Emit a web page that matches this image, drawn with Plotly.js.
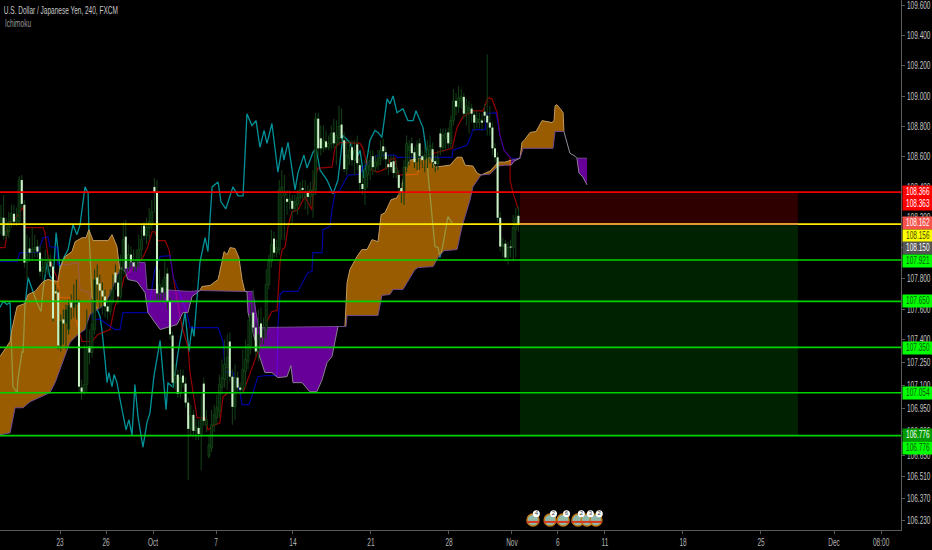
<!DOCTYPE html>
<html><head><meta charset="utf-8">
<script src="https://cdn.plot.ly/plotly-3.0.1.min.js"></script>
<style>html,body{margin:0;padding:0;background:#000;overflow:hidden}#c{width:932px;height:550px}</style>
</head><body><div id="c"></div>
<script>
const priceTicks=[109.6,109.4,109.2,109.0,108.8,108.6,108.4,108.2,108.0,107.8,107.6,107.4,107.25,107.1,106.95,106.8,106.65,106.51,106.37,106.23];
const dateTickPos=[22.7,40.4,58.5,82.7,112.3,142.3,172.3,196.5,214.2,232.3,262.3,292.3,320.4,338.5];
const dateTickText=['23','26','Oct','7','14','21','28','Nov','6','11','18','25','Dec','08:00'];

const openP=[108.152,108.198,108.080,108.106,108.172,108.224,108.172,108.172,108.446,108.283,107.904,107.996,107.969,107.989,108.009,107.969,107.845,107.871,107.904,107.911,
107.878,107.715,107.708,107.362,107.532,107.506,107.466,107.643,107.610,107.630,107.643,107.088,107.061,107.107,107.355,107.316,107.466,107.806,107.767,107.721,
107.682,107.617,107.584,107.662,107.839,107.773,107.682,107.858,108.074,107.871,107.956,107.904,107.878,107.911,107.989,108.146,108.080,108.133,108.152,108.401,
108.361,107.702,107.741,107.708,107.832,107.649,107.427,107.120,107.172,107.048,107.166,107.114,106.990,106.820,106.911,106.807,106.826,106.787,107.114,106.846,
106.643,106.696,106.846,106.892,106.931,107.088,107.140,107.218,107.388,107.159,106.963,107.153,107.088,107.074,107.192,107.257,107.349,107.577,107.479,107.323,
107.506,107.414,107.466,107.760,107.911,108.061,107.969,107.989,108.368,108.342,108.322,108.303,108.309,108.257,108.283,108.329,108.394,108.335,108.368,108.335,
108.348,108.381,108.851,108.721,108.655,108.701,108.662,108.688,108.760,108.688,108.721,108.812,108.708,108.518,108.590,108.662,108.577,108.681,108.544,108.420,
108.387,108.479,108.512,108.603,108.531,108.544,108.590,108.668,108.629,108.551,108.564,108.570,108.492,108.479,108.394,108.361,108.531,108.642,108.688,108.629,
108.564,108.688,108.603,108.577,108.590,108.610,108.649,108.570,108.551,108.753,108.662,108.721,108.760,108.688,108.838,108.969,108.930,108.969,108.995,108.884,
108.903,108.917,108.877,108.825,108.825,108.838,108.897,108.871,108.825,108.792,108.655,108.596,108.198,108.009,108.028,107.937,108.009,108.002,108.120,108.211];
const highP=[108.283,108.348,108.198,108.237,108.283,108.283,108.263,108.472,108.479,108.316,108.087,108.067,108.133,108.087,108.054,108.022,107.937,107.989,107.956,107.956,
107.911,107.760,107.728,107.564,107.597,107.630,107.662,107.695,107.760,107.793,107.662,107.140,107.368,107.597,107.466,107.662,107.858,107.891,107.826,107.773,
107.728,107.662,107.728,107.826,107.891,107.826,107.956,108.172,108.185,108.022,108.009,107.989,107.989,108.087,108.152,108.172,108.198,108.263,108.316,108.459,
108.446,107.858,107.793,107.911,107.871,107.675,107.453,107.238,107.205,107.205,107.205,107.153,107.022,106.977,106.944,106.879,106.879,107.042,107.153,106.944,
106.781,106.944,106.977,107.042,107.172,107.270,107.401,107.434,107.447,107.205,107.238,107.192,107.120,107.336,107.401,107.532,107.630,107.728,107.519,107.597,
107.610,107.545,107.858,107.956,108.120,108.106,108.054,108.446,108.512,108.479,108.381,108.381,108.348,108.348,108.381,108.433,108.446,108.446,108.414,108.433,
108.512,108.890,108.890,108.806,108.806,108.773,108.740,108.806,108.851,108.838,108.936,108.917,108.760,108.708,108.708,108.708,108.708,108.740,108.590,108.479,
108.577,108.590,108.642,108.642,108.610,108.642,108.708,108.721,108.662,108.610,108.610,108.610,108.577,108.512,108.427,108.577,108.740,108.708,108.727,108.662,
108.708,108.721,108.642,108.675,108.708,108.740,108.694,108.610,108.642,108.786,108.786,108.786,108.792,108.871,109.047,109.021,109.067,109.047,109.021,108.982,
108.969,108.949,108.903,108.903,108.890,108.884,108.949,109.276,108.936,108.825,108.688,108.629,108.237,108.067,108.054,108.041,108.054,108.218,108.263,108.270];
const lowP=[108.087,108.054,108.054,108.067,108.133,108.146,108.146,108.159,108.263,107.871,107.793,107.911,107.924,107.937,107.937,107.813,107.793,107.826,107.826,107.845,
107.519,107.662,107.336,107.323,107.368,107.336,107.434,107.532,107.545,107.532,107.061,107.009,107.042,107.061,107.238,107.284,107.434,107.662,107.597,107.564,
107.545,107.532,107.558,107.630,107.728,107.630,107.662,107.826,107.826,107.845,107.871,107.845,107.845,107.871,107.937,108.054,108.022,108.054,108.120,108.231,
107.662,107.662,107.649,107.675,107.597,107.401,107.088,107.074,107.022,107.022,107.088,106.957,106.487,106.774,106.774,106.748,106.748,106.552,106.839,106.800,
106.630,106.670,106.800,106.846,106.892,107.042,107.088,107.074,107.127,106.846,106.879,107.061,107.042,107.055,107.088,107.205,107.303,107.434,107.284,107.257,
107.368,107.368,107.401,107.728,107.871,107.937,107.937,107.956,108.054,108.054,108.218,108.250,108.152,108.237,108.218,108.283,108.316,108.250,108.218,108.283,
108.198,108.348,108.610,108.610,108.629,108.642,108.642,108.642,108.655,108.544,108.675,108.694,108.498,108.479,108.544,108.538,108.479,108.512,108.381,108.348,
108.283,108.394,108.446,108.479,108.498,108.512,108.544,108.577,108.512,108.479,108.498,108.459,108.459,108.348,108.296,108.283,108.498,108.544,108.590,108.525,
108.512,108.512,108.525,108.498,108.525,108.557,108.525,108.498,108.512,108.610,108.629,108.642,108.655,108.655,108.805,108.871,108.890,108.917,108.851,108.805,
108.753,108.825,108.773,108.786,108.786,108.773,108.825,108.740,108.740,108.610,108.564,108.172,107.976,107.937,107.911,107.891,107.937,107.911,107.937,108.106];
const closeP=[108.198,108.080,108.106,108.172,108.224,108.172,108.185,108.446,108.289,107.904,107.956,107.969,107.989,108.002,107.976,107.845,107.871,107.904,107.911,107.878,
107.538,107.702,107.362,107.519,107.506,107.597,107.623,107.610,107.643,107.643,107.094,107.061,107.107,107.336,107.316,107.499,107.793,107.760,107.721,107.682,
107.617,107.584,107.662,107.728,107.773,107.682,107.858,108.054,107.865,107.956,107.911,107.878,107.924,107.989,108.054,108.080,108.133,108.172,108.237,108.368,
107.702,107.760,107.708,107.806,107.649,107.434,107.120,107.166,107.048,107.153,107.120,106.990,106.820,106.905,106.807,106.833,106.787,106.879,106.872,106.879,
106.715,106.846,106.911,106.957,107.107,107.153,107.238,107.284,107.159,106.963,107.153,107.088,107.074,107.205,107.270,107.368,107.564,107.479,107.323,107.434,
107.414,107.466,107.760,107.911,108.022,107.969,108.002,108.381,108.400,108.368,108.303,108.322,108.257,108.303,108.329,108.381,108.381,108.368,108.335,108.381,
108.381,108.851,108.655,108.655,108.708,108.662,108.688,108.753,108.688,108.740,108.799,108.721,108.518,108.610,108.642,108.577,108.642,108.557,108.427,108.387,
108.512,108.544,108.577,108.531,108.564,108.590,108.642,108.636,108.583,108.531,108.531,108.492,108.525,108.394,108.361,108.531,108.688,108.668,108.623,108.564,
108.675,108.603,108.577,108.610,108.642,108.675,108.564,108.551,108.590,108.662,108.740,108.753,108.688,108.838,108.969,108.930,108.988,108.995,108.884,108.936,
108.923,108.884,108.825,108.851,108.845,108.825,108.871,108.825,108.792,108.655,108.596,108.198,108.009,108.022,107.937,108.002,108.002,108.133,108.198,108.150];

const chikouX=[-0.4,0.8,2.3,3.5,3.8,4.6,6.2,6.5,8.1,8.5,9.2,10.4,12.3,13.8,15.4,16.2,17.7,18.8,20,21.2,22.7,23.8,25.8,27.7,29.2,30.4,32.3,33.5,33.8,35,38.1,38.8,40,40.8,41.5,42.7,43.5,44.6,45.8,46.9,48.1,49.2,50.4,51.5,52.7,54.6,56.2,57.3,58.8,61.2,63.5,64.2,66.2,68.1,70.8,72.3,73.5,74.2,76.5,78.5,79.6,81.2,83.5,84.6,86.5,89.2,91.2,93.1,93.8,94.6,96.5,98.1,99.6,101.2,102.3,104.2,106.5,108.1,108.8,110.4,113.1,114.2,116.5,117.7,120,121.2,122.7,125.4,127.7,129.6,131.5,134.2,136.5,138.1,139.6,141.9,143.8,145,146.5,148.5,149.6,150.8,152.3,154.6,156.5,158.5,159.6,162.3,163.8,164.2,165.8,166.9,168.1,168.8,170,171.9,173.5];
const chikouY=[107.610,107.649,107.630,107.643,107.466,107.094,107.055,107.140,107.323,107.316,107.617,107.806,107.715,107.643,107.584,107.728,107.904,107.813,107.793,108.100,107.858,107.924,107.989,108.152,108.087,108.152,108.401,108.361,108.120,107.682,107.551,107.466,107.270,107.120,107.186,107.094,107.173,107.120,107.009,106.924,106.813,106.879,106.781,107.107,106.898,106.702,106.865,106.924,107.159,107.395,106.944,107.120,107.088,107.316,107.577,107.323,107.486,107.421,107.904,108.067,107.976,108.401,108.433,108.303,108.257,108.401,108.342,108.342,108.642,108.884,108.805,108.838,108.662,108.773,108.688,108.819,108.498,108.662,108.577,108.694,108.381,108.492,108.610,108.525,108.629,108.655,108.512,108.446,108.355,108.446,108.740,108.694,108.577,108.642,108.459,108.708,108.773,108.760,108.727,108.982,108.949,109.001,108.890,108.917,108.838,108.838,108.903,108.792,108.610,108.492,108.205,108.009,108.002,107.937,108.022,108.205,108.165];
const tenkanX=[-0.4,1.5,2.3,3.5,6.2,8.5,9.2,16.2,16.9,18.1,21.5,22.7,26.5,31.2,35,36.2,37.3,41.9,43.8,46.5,47.3,54.6,56.5,58.1,59.2,60.4,63.1,64.6,65.8,66.9,69.6,71.9,72.7,74.6,75.4,78.5,79.6,81.5,84.2,85.4,87.3,93.1,94.6,96.9,98.8,100.8,102.3,104.2,106.2,107.3,108.1,109.2,110.4,111.9,114.2,115.8,116.9,119.6,120,120.8,121.9,127.3,128.5,130.4,138.1,139.2,140.8,142.7,145,148.5,149.6,151.5,152.7,154.6,160,163.8,173.5,175.4,177.7,181.5,185.4,187.3,188.8,190.8,191.9,193.5,195.8,195.8,196.9,199.2];
const tenkanY=[108.002,108.002,108.100,108.172,108.205,108.270,108.133,108.133,108.100,107.943,107.806,107.675,107.675,107.388,107.388,107.414,107.434,107.466,107.617,107.741,107.806,107.937,108.009,108.106,108.106,108.048,108.048,107.989,107.858,107.741,107.486,107.355,107.186,106.990,106.892,106.892,106.813,106.839,106.859,107.029,107.055,107.055,107.127,107.225,107.316,107.414,107.519,107.584,107.590,107.904,107.989,108.002,108.139,108.237,108.250,108.303,108.335,108.250,108.381,108.466,108.525,108.531,108.662,108.694,108.688,108.655,108.544,108.512,108.498,108.525,108.583,108.590,108.485,108.479,108.485,108.610,108.655,108.792,108.864,108.903,108.903,108.988,108.982,108.890,108.740,108.642,108.596,108.446,108.361,108.244];
const kijunX=[-0.4,6.2,7.3,14.2,16.2,18.1,18.8,21.5,21.9,25.4,29.6,30.4,34.2,35.4,38.1,40.8,43.8,45.8,46.9,56.5,58.1,59.2,61.2,65,66.2,68.1,71.5,72.7,83.5,85.4,86.2,89.2,91.9,92.7,95.4,96.9,98.8,101.5,106.2,106.5,107.3,108.5,114.2,116.2,118.1,119.6,120,123.5,123.8,126.5,127.3,128.5,130.4,133.5,138.1,139.2,145,151.5,152.3,173.5,173.8,179.2,180.4,181.5,186.2,186.9,190.4,191.9,193.5,195.8,197.7,199.6];
const kijunY=[107.911,107.911,107.969,107.969,108.067,108.074,108.009,108.002,107.891,107.891,107.904,107.728,107.708,107.532,107.532,107.499,107.466,107.466,107.577,107.577,107.728,107.858,107.943,107.950,107.813,107.728,107.577,107.479,107.479,107.388,107.192,107.186,107.061,106.977,106.977,107.055,107.159,107.166,107.166,107.486,107.695,107.715,107.715,107.780,107.839,107.845,107.969,107.969,108.120,108.139,108.250,108.361,108.381,108.479,108.485,108.531,108.610,108.610,108.596,108.596,108.642,108.675,108.721,108.779,108.779,108.884,108.890,108.740,108.642,108.596,108.583,108.590];

const bullCloud1TopX=[-0.4,3.5,4.2,6.2,9.2,10.4,13.1,16.2,18.1,21.9,22.7,24.6,27.3,28.5,31.2,32.7,33.8,35.4,41.2,42.7,44.6,45.8,46.5];
const bullCloud1TopY=[107.290,107.388,107.466,107.617,107.636,107.695,107.715,107.780,107.793,107.780,107.871,107.943,107.976,108.041,108.067,108.067,108.120,108.048,108.048,108.087,108.009,107.839,107.871];
const bullCloud1BotX=[-0.4,3.5,5.4,8.5,11.2,18.8,20.8,26.5,29.6,32.3,34.2,37,40,42.7,44.6,46.5];
const bullCloud1BotY=[106.781,106.794,106.957,106.957,106.996,107.055,107.120,107.382,107.434,107.466,107.564,107.597,107.630,107.728,107.819,107.871];
const bearCloud1TopX=[46.5,47.7,55.4,56.2,61.2,72.7,76.5];
const bearCloud1TopY=[107.871,107.904,107.904,107.728,107.728,107.715,107.721];
const bearCloud1BotX=[46.5,47.7,48.8,52.3,55.4,56.5,61.2,63.8,67.7,70,71.9,73.5,76.5];
const bearCloud1BotY=[107.871,107.845,107.793,107.780,107.708,107.577,107.466,107.479,107.499,107.577,107.577,107.682,107.721];
const bullCloud2TopX=[76.5,77.3,80.4,83.5,85,85.8,87,88.1,90,91.5,92.7,93.8];
const bullCloud2TopY=[107.721,107.747,107.754,107.793,107.911,107.976,107.956,108.002,107.996,107.937,107.793,107.715];
const bullCloud2BotX=[76.5,93.8];
const bullCloud2BotY=[107.721,107.715];
const bearCloud2TopX=[93.8,96.9,98.1,99.2,129.6];
const bearCloud2TopY=[107.715,107.715,107.577,107.479,107.486];
const bearCloud2BotX=[93.8,94.6,95,98.8,101.5,104.2,106.5,110,111.5,112.3,115.8,118.8,121.5,123.5,125.4,127.3,129.6];
const bearCloud2BotY=[107.715,107.715,107.577,107.323,107.186,107.186,107.153,107.159,107.231,107.120,107.120,107.061,107.061,107.140,107.251,107.290,107.486];
const bullCloud3TopX=[129.6,132.3,133.1,134.2,136.9,138.8,140.8,142.7,145,146.2,147.7,150,152.3,154.2,155.4,157.3,161.2,165,166.9,172.7,175.4,177.3,178.5,181.5,183.1,184.6];
const bullCloud3TopY=[107.486,107.486,107.773,107.858,107.943,107.989,107.989,108.054,108.041,108.218,108.231,108.316,108.329,108.401,108.525,108.577,108.590,108.596,108.531,108.544,108.596,108.596,108.544,108.538,108.492,108.479];
const bullCloud3BotX=[129.6,132.7,133.1,145,146.5,149.6,150.8,154.6,156.2,159.2,160.4,166.2,168.1,170.4,175.4,177.3,180.4,181.5,184.6];
const bullCloud3BotY=[107.486,107.486,107.558,107.558,107.689,107.695,107.728,107.728,107.773,107.858,107.871,107.878,107.937,107.982,107.989,108.139,108.316,108.401,108.479];
const bullCloud4TopX=[184.6,188.1,191.2,193.8,196.2];
const bullCloud4TopY=[108.479,108.505,108.564,108.564,108.577];
const bullCloud4BotX=[184.6,188.1,191.2,193.8,196.2];
const bullCloud4BotY=[108.479,108.485,108.538,108.544,108.544];
const bearCloud3TopX=[196.2,199.6];
const bearCloud3TopY=[108.577,108.590];
const bearCloud3BotX=[196.2,197.3,199.6];
const bearCloud3BotY=[108.544,108.570,108.590];
const bullCloud5TopX=[199.6,200.4,201.5,203.5,205.8,208.1,211.9,212.7,213.1,213.8,215.4,216.2,216.5];
const bullCloud5TopY=[108.590,108.694,108.714,108.760,108.766,108.838,108.825,108.838,108.936,108.943,108.910,108.890,108.766];
const bullCloud5BotX=[199.6,200.8,212.3,213.1,216.5];
const bullCloud5BotY=[108.590,108.655,108.655,108.766,108.766];
const thinSpanX=[216.5,217.7,218.8,220.8,221.5];
const thinSpanY=[108.766,108.688,108.623,108.603,108.590];
const bearCloud4TopX=[221.5,225.4];
const bearCloud4TopY=[108.590,108.590];
const bearCloud4BotX=[221.5,222.3,223.8,225.4];
const bearCloud4BotY=[108.590,108.492,108.466,108.414];

const levelValues=[108.366,108.156,107.921,107.650,107.350,107.054,106.776];
const levelColors=['#f00000','#ffe800','#00d400','#00d400','#00d400','#00d400','#00d400'];
const positionStart=199.6, positionEnd=306.5;
const stopPrice=108.366, entryPrice=108.156, targetPrice=106.776;

const tagTexts=['108.366','108.363','108.162','108.156','108.150','107.921','107.650','107.350','107.054','106.776','106.776'];
const tagPlaces=[108.368,108.288,108.165,108.080,108.000,107.914,107.652,107.347,107.054,106.780,106.698];
const tagBacks=['#ff0000','#ff0000','#f4524a','#ffff00','#555555','#00ff00','#00ff00','#00ff00','#00ff00','#009a00','#00ff00'];
const tagInks=['#ffffff','#ffffff','#ffffff','#444400','#ffffff','#115511','#115511','#115511','#115511','#ffffff','#115511'];

const eventX=[204.6,211.2,216.2,221.9,225.4,228.8];
const eventLabels=['4','2','6','2','3','2'];
const eventPrice=106.23, eventTagPrice=106.27;

const sans='"Liberation Sans",Arial,sans-serif';
const priceRange=[Math.log10(106.166),Math.log10(109.638)];
const barRange=[-0.385,346.15];
const traces=[];
function rect(x0,x1,y0,y1,c){traces.push({type:'scatter',mode:'lines',x:[x0,x1,x1,x0,x0],y:[y0,y0,y1,y1,y0],fill:'toself',fillcolor:c,line:{width:0},hoverinfo:'skip'});}
rect(positionStart,positionEnd,stopPrice,entryPrice,'#2e0000');
rect(positionStart,positionEnd,entryPrice,targetPrice,'#002200');

traces.push({type:'scatter',mode:'lines',x:chikouX,y:chikouY,line:{color:'#009298',width:1.3},hoverinfo:'skip'});
traces.push({type:'scatter',mode:'lines',x:tenkanX,y:tenkanY,line:{color:'rgba(255,0,0,0.58)',width:1.2},hoverinfo:'skip'});
traces.push({type:'scatter',mode:'lines',x:kijunX,y:kijunY,line:{color:'rgba(0,0,255,0.62)',width:1.2},hoverinfo:'skip'});

const BULL='rgba(255,153,0,0.6)', BEAR='rgba(170,0,255,0.6)';
function cloud(tx,ty,bx,by,fc,topLine,botLine){
  traces.push({type:'scatter',mode:'lines',x:tx.concat(bx.slice().reverse()),y:ty.concat(by.slice().reverse()),fill:'toself',fillcolor:fc,line:{width:0},hoverinfo:'skip'});
  traces.push({type:'scatter',mode:'lines',x:tx,y:ty,line:{color:topLine,width:1},hoverinfo:'skip'});
  traces.push({type:'scatter',mode:'lines',x:bx,y:by,line:{color:botLine,width:1},hoverinfo:'skip'});
}
const A='#c09a60', B='#6f4a90', A2='#8a8090';
cloud(bullCloud1TopX,bullCloud1TopY,bullCloud1BotX,bullCloud1BotY,BULL,A,B);
cloud(bearCloud1TopX,bearCloud1TopY,bearCloud1BotX,bearCloud1BotY,BEAR,B,A2);
cloud(bullCloud2TopX,bullCloud2TopY,bullCloud2BotX,bullCloud2BotY,BULL,A,B);
cloud(bearCloud2TopX,bearCloud2TopY,bearCloud2BotX,bearCloud2BotY,BEAR,B,A2);
cloud(bullCloud3TopX,bullCloud3TopY,bullCloud3BotX,bullCloud3BotY,BULL,A,B);
cloud(bullCloud4TopX,bullCloud4TopY,bullCloud4BotX,bullCloud4BotY,BULL,A,B);
cloud(bearCloud3TopX,bearCloud3TopY,bearCloud3BotX,bearCloud3BotY,BEAR,B,A2);
cloud(bullCloud5TopX,bullCloud5TopY,bullCloud5BotX,bullCloud5BotY,BULL,A,B);
traces.push({type:'scatter',mode:'lines',x:thinSpanX,y:thinSpanY,line:{color:'#8f8f9a',width:1},hoverinfo:'skip'});
cloud(bearCloud4TopX,bearCloud4TopY,bearCloud4BotX,bearCloud4BotY,BEAR,B,A2);

// upper layer: candles (wick bar + body bar), level lines and event marks on an overlay subplot
const over=[];
const barIndex=closeP.map((_,i)=>i);
over.push({type:'bar',x:barIndex,base:lowP,y:barIndex.map(i=>highP[i]-lowP[i]),width:0.4,marker:{color:'#124016',line:{width:0}},hoverinfo:'skip'});
const downIdx=barIndex.filter(i=>closeP[i]<openP[i]), upIdx=barIndex.filter(i=>closeP[i]>=openP[i]);
over.push({type:'bar',x:upIdx,base:upIdx.map(i=>openP[i]),y:upIdx.map(i=>closeP[i]-openP[i]),width:0.8,marker:{color:'#06200a',line:{color:'#1b5a1e',width:0.6}},hoverinfo:'skip'});
over.push({type:'bar',x:downIdx,base:downIdx.map(i=>closeP[i]),y:downIdx.map(i=>openP[i]-closeP[i]),width:0.8,marker:{color:'#c8f0c2',line:{width:0}},hoverinfo:'skip'});

levelValues.forEach((v,i)=>over.push({type:'scatter',mode:'lines',x:barRange,y:[v,v],line:{color:levelColors[i],width:i<2?1.8:1.6},hoverinfo:'skip'}));
over.push({type:'scatter',mode:'lines',x:[positionStart,positionEnd],y:[entryPrice,entryPrice],line:{color:'#e8963a',width:1.8},hoverinfo:'skip'});
over.push({type:'scatter',mode:'markers',x:eventX,y:eventX.map(()=>eventPrice),marker:{size:12,color:'#8fb8a8',line:{color:'#c47a12',width:1.4}},hoverinfo:'skip'});
over.push({type:'scatter',mode:'markers',x:eventX,y:eventX.map(()=>eventPrice-0.012),marker:{size:9,symbol:'line-ew',line:{color:'#d83a20',width:2}},hoverinfo:'skip'});
over.push({type:'scatter',mode:'markers+text',x:eventX.map(v=>v+1.3),y:eventX.map(()=>eventTagPrice),text:eventLabels,textposition:'middle center',textfont:{size:6,color:'#333',family:sans},marker:{size:7,color:'#ffffff'},hoverinfo:'skip'});
over.forEach(t=>{t.xaxis='x2';t.yaxis='y2';traces.push(t);});

const annotations=[
 {xref:'paper',yref:'paper',x:61/901,y:1-11/530,xanchor:'center',yanchor:'middle',text:'U.S. Dollar / Japanese Yen, 240, FXCM',showarrow:false,font:{family:sans,size:10,color:'#c8c8c8'}},
 {xref:'paper',yref:'paper',x:18/901,y:1-24/530,xanchor:'center',yanchor:'middle',text:'Ichimoku',showarrow:false,font:{family:sans,size:10,color:'#9a9a9a'}}
];
tagTexts.forEach((t,i)=>annotations.push({xref:'paper',yref:'y',x:1.0012,y:Math.log10(tagPlaces[i]),xanchor:'left',yanchor:'middle',text:t,showarrow:false,
  bgcolor:tagBacks[i],width:30,height:12,borderpad:0,align:'center',font:{family:sans,size:10,color:tagInks[i]}}));

const layout={width:932,height:550,margin:{l:0,r:31,t:0,b:20,pad:0},paper_bgcolor:'#000',plot_bgcolor:'#000',showlegend:false,
 dragmode:false,hovermode:false,barmode:'overlay',
 xaxis:{range:barRange,tickmode:'array',tickvals:dateTickPos,ticktext:dateTickText,showgrid:false,zeroline:false,showline:true,linecolor:'#5a5a5a',linewidth:1,ticks:'outside',ticklen:3,tickcolor:'#5a5a5a',tickfont:{family:sans,size:10,color:'#b4b4b4'},fixedrange:true},
 yaxis:{type:'log',range:priceRange,side:'right',tickmode:'array',tickvals:priceTicks,ticktext:priceTicks.map(v=>v.toFixed(3)),showgrid:false,zeroline:false,showline:true,linecolor:'#5a5a5a',linewidth:1,ticks:'outside',ticklen:3,tickcolor:'#5a5a5a',tickfont:{family:sans,size:10,color:'#c4c4c4'},fixedrange:true},
 xaxis2:{overlaying:'x',range:barRange,visible:false,fixedrange:true},
 yaxis2:{overlaying:'y',type:'log',range:priceRange,visible:false,side:'right',fixedrange:true},
 annotations:annotations};
Plotly.newPlot('c',traces,layout,{displayModeBar:false,staticPlot:true}).then(gd=>{
  // the reference's labels are condensed horizontally: scale each about its own anchor
  gd.querySelectorAll('.xtick text, .ytick text, .annotation-text').forEach(t=>{
    const x=parseFloat(t.getAttribute('x'))||0, prev=t.getAttribute('transform')||'';
    t.removeAttribute('clip-path');
    t.style.removeProperty('clip-path');
    t.setAttribute('transform',`${prev} translate(${x},0) scale(0.65,1) translate(${-x},0)`);
  });
});
</script></body></html>
